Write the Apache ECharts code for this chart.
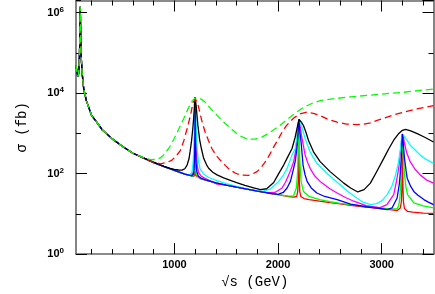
<!DOCTYPE html>
<html>
<head>
<meta charset="utf-8">
<script src="https://cdn.jsdelivr.net/npm/echarts@6/dist/echarts.min.js"></script>
<style>
html,body{margin:0;padding:0;background:#fff;}
#chart{width:435px;height:294px;}
</style>
</head>
<body>
<div id="chart"></div>
<script>
// ---- data (sqrt(s) in GeV, sigma in fb) ----
const lowEnergy = [50, 60, 66, 75, 82, 86, 89, 91.2, 93, 96, 100, 110, 125, 150, 200, 250, 300, 400, 500, 600];
const lowSigma  = [5.0e4, 3.3e4, 2.6e4, 3.0e4, 6.0e4, 1.8e5, 6.0e5, 1.4e6, 7.0e5, 2.0e5, 8.0e4, 3.0e4, 1.25e4, 6.5e3, 2.8e3, 1.9e3, 1.25e3, 730, 470, 320];

const blackE = [700, 800, 900, 960, 1000, 1040, 1073, 1100, 1122, 1140, 1151, 1165, 1177, 1185, 1192, 1196, 1200, 1204, 1210, 1218, 1226, 1243, 1260, 1282, 1310, 1330, 1370, 1411, 1475, 1540, 1600, 1680, 1765, 1830, 1890, 1958, 2006, 2054, 2100, 2135, 2165, 2185, 2196, 2203, 2212, 2225, 2245, 2270, 2293, 2342, 2406, 2502, 2634, 2700, 2769, 2830, 2891, 2950, 3020, 3070, 3116, 3160, 3200, 3231, 3280, 3343, 3420, 3500];
const blackSigma = [245, 192, 152, 135, 128, 123, 122, 132, 163, 230, 350, 650, 1300, 2300, 4300, 6600, 7850, 7100, 4700, 2700, 1600, 700, 420, 240, 165, 136, 108, 93, 78, 68, 60, 51, 44, 40, 42, 60, 100, 163, 280, 420, 800, 1400, 1900, 2210, 2150, 1900, 1570, 1050, 675, 348, 198, 112, 58, 44, 35, 40, 58, 110, 239, 420, 675, 960, 1190, 1250, 1150, 980, 790, 610];

const cyanE = [700, 800, 900, 1000, 1100, 1150, 1170, 1180, 1188, 1192, 1196, 1200, 1204, 1208, 1212, 1220, 1230, 1248, 1280, 1330, 1411, 1500, 1600, 1700, 1765, 1850, 1923, 2006, 2050, 2087, 2135, 2165, 2185, 2195, 2203, 2212, 2226, 2261, 2309, 2374, 2470, 2530, 2599, 2680, 2760, 2820, 2891, 2950, 3000, 3053, 3100, 3134, 3160, 3182, 3192, 3198, 3205, 3220, 3250, 3275, 3320, 3371, 3430, 3500];
const cyanSigma = [245, 188, 150, 120, 97, 92, 110, 180, 450, 1100, 3900, 7800, 3900, 1650, 860, 380, 215, 130, 98, 80, 67, 56, 48, 41.5, 38, 36, 41, 64, 90, 135, 288, 420, 900, 1600, 2200, 2000, 1570, 740, 348, 180, 102, 75, 53, 35, 24.8, 19.5, 17, 18, 21, 30, 50, 93, 180, 420, 750, 980, 960, 820, 640, 507, 390, 288, 225, 180];

const magentaE = [700, 800, 900, 1000, 1100, 1160, 1180, 1190, 1195, 1198, 1200, 1202, 1205, 1210, 1220, 1233, 1260, 1300, 1411, 1500, 1600, 1700, 1800, 1900, 1970, 2039, 2070, 2103, 2130, 2151, 2170, 2185, 2195, 2200, 2205, 2215, 2226, 2240, 2261, 2285, 2309, 2350, 2406, 2500, 2570, 2650, 2731, 2850, 2985, 3050, 3116, 3140, 3164, 3180, 3190, 3200, 3210, 3220, 3240, 3275, 3320, 3371, 3430, 3500];
const magentaSigma = [245, 188, 150, 120, 97, 90, 105, 250, 900, 3000, 7800, 3900, 1150, 380, 157, 106, 85, 75, 55, 52, 46, 41, 37, 33.5, 34, 44, 60, 93, 140, 200, 380, 800, 1700, 2200, 2050, 1400, 890, 560, 290, 190, 135, 90, 64, 42, 33, 25.5, 20.6, 16, 14.3, 17, 30, 60, 135, 330, 600, 950, 780, 560, 340, 198, 130, 93, 70, 58];

const blueE = [700, 800, 900, 1000, 1100, 1170, 1185, 1192, 1196, 1198, 1199, 1200, 1201, 1202, 1204, 1208, 1215, 1230, 1260, 1300, 1400, 1500, 1600, 1700, 1800, 1900, 2000, 2050, 2087, 2120, 2135, 2165, 2180, 2190, 2196, 2200, 2204, 2210, 2222, 2241, 2260, 2280, 2320, 2374, 2450, 2570, 2700, 2850, 3000, 3053, 3100, 3149, 3170, 3178, 3185, 3190, 3195, 3200, 3205, 3210, 3220, 3235, 3246, 3280, 3310, 3350, 3407, 3450, 3500];
const blueSigma = [245, 188, 150, 120, 97, 88, 100, 150, 400, 1400, 3500, 7800, 3900, 1640, 540, 200, 115, 87, 76, 70, 59, 52, 46, 41, 36.5, 33, 30.5, 34, 44, 65, 93, 198, 380, 750, 1500, 2200, 1800, 1100, 610, 163, 95, 64, 44, 33, 27, 22.6, 17.5, 15, 13.5, 12.8, 14, 24.8, 55, 93, 160, 270, 560, 960, 760, 480, 240, 120, 77, 48, 36, 29, 22.6, 19.5, 17];

const greenE = [700, 800, 900, 1000, 1100, 1180, 1190, 1195, 1198, 1199, 1199.5, 1200, 1200.5, 1201, 1202, 1205, 1210, 1250, 1300, 1400, 1500, 1600, 1700, 1800, 1900, 2000, 2100, 2150, 2176, 2185, 2190, 2195, 2198, 2200, 2202, 2205, 2210, 2222, 2245, 2300, 2400, 2500, 2600, 2700, 2800, 2900, 3000, 3100, 3150, 3165, 3175, 3185, 3190, 3195, 3198, 3200, 3202, 3205, 3210, 3220, 3235, 3250, 3310, 3400, 3500];
const greenSigma = [245, 188, 150, 120, 97, 85, 90, 120, 300, 1000, 3000, 7800, 3000, 1075, 380, 130, 95, 75, 69, 59, 52, 46, 41, 36.5, 33, 30, 27.5, 28, 44, 80, 130, 440, 1300, 2200, 1300, 470, 200, 64, 36, 27, 22.5, 20, 18.3, 17, 15.8, 14.8, 13.9, 13.2, 13.5, 16, 25, 60, 120, 400, 800, 950, 850, 580, 270, 95, 45, 30, 18.7, 15.7, 14.1];

const redE = [700, 800, 900, 1000, 1100, 1150, 1190, 1196, 1198, 1199, 1199.6, 1200, 1200.4, 1201, 1202, 1204, 1210, 1250, 1300, 1400, 1500, 1600, 1700, 1800, 1900, 2000, 2100, 2150, 2180, 2190, 2195, 2198, 2199, 2200, 2201, 2202, 2205, 2210, 2220, 2250, 2300, 2400, 2500, 2600, 2700, 2800, 2900, 3000, 3100, 3150, 3180, 3190, 3195, 3198, 3199, 3200, 3201, 3202, 3205, 3210, 3220, 3250, 3300, 3400, 3500];
const redSigma = [245, 188, 150, 120, 97, 90, 86, 95, 124, 253, 1000, 7800, 1000, 253, 124, 91, 84, 75, 69, 59, 52, 46, 41, 36.5, 33, 30, 27, 26, 27, 36, 67, 265, 750, 2200, 750, 265, 67, 35, 27, 24, 22.5, 20.6, 19, 17.6, 16.3, 15.2, 14.2, 13.3, 12.5, 12.1, 14, 20, 45, 200, 480, 950, 480, 200, 45, 20, 13.5, 11.5, 11, 10.4, 10.3];

const greenDashE = [700, 767, 820, 864, 900, 950, 993, 1040, 1089, 1130, 1170, 1200, 1218, 1250, 1298, 1350, 1411, 1470, 1540, 1620, 1700, 1780, 1850, 1920, 2000, 2087, 2160, 2247, 2330, 2409, 2490, 2570, 2700, 2891, 3050, 3213, 3350, 3500];
const greenDashSigma = [250, 222, 225, 245, 300, 440, 700, 1250, 2300, 4000, 6300, 7600, 7850, 7300, 5900, 4100, 2800, 1950, 1350, 900, 720, 720, 820, 1050, 1450, 2200, 3100, 4450, 5600, 6500, 7000, 7400, 8100, 8900, 9700, 10500, 11500, 12600];

const redDashE = [700, 767, 864, 930, 977, 1020, 1058, 1090, 1122, 1154, 1180, 1202, 1225, 1248, 1270, 1296, 1330, 1361, 1400, 1441, 1490, 1537, 1590, 1634, 1714, 1760, 1797, 1840, 1878, 1920, 1958, 2000, 2039, 2080, 2116, 2160, 2213, 2278, 2340, 2406, 2480, 2570, 2660, 2763, 2830, 2891, 2970, 3053, 3130, 3213, 3350, 3500];
const redDashSigma = [245, 200, 175, 190, 217, 280, 380, 650, 1300, 2760, 5900, 7130, 5500, 3050, 1800, 1080, 650, 420, 290, 217, 160, 123, 102, 93, 90, 100, 112, 145, 198, 300, 462, 700, 1080, 1550, 1950, 2500, 3050, 3360, 3150, 2760, 2250, 1900, 1700, 1640, 1700, 1830, 2150, 2530, 2950, 3360, 4100, 4900];

const xMajorTicks = [1000, 2000, 3000];
const xMinorTicks = [200, 400, 600, 800, 1200, 1400, 1600, 1800, 2200, 2400, 2600, 2800, 3200, 3400];
const yLabelExponents = [0, 2, 4, 6];

// ---- build ----
function pairs(e, s) {
  const xs = lowEnergy.concat(e), ys = lowSigma.concat(s);
  return xs.map((x, i) => [x, ys[i]]);
}
const FRAME = '#666';
const monoFont = '"Liberation Mono", "DejaVu Sans Mono", monospace';
const sansFont = '"Liberation Sans", Arial, sans-serif';

function xAxisDef(pos, ticks, len, line, labels, extra) {
  return Object.assign({
    type: 'value', position: pos, min: 50, max: 3500, gridIndex: 0,
    axisLine: { show: line, onZero: false, lineStyle: { color: FRAME, width: 1.6 } },
    axisTick: { show: true, inside: true, length: len, customValues: ticks, lineStyle: { color: '#000', width: 1 } },
    axisLabel: { show: labels, customValues: ticks, margin: 5, fontSize: 11, fontWeight: 'bold', color: '#000', fontFamily: sansFont,
                 formatter: function (v) { return String(v); } },
    splitLine: { show: false }
  }, extra || {});
}
function yAxisDef(pos, interval, len, line, labels, extra) {
  return Object.assign({
    type: 'log', logBase: 10, position: pos, min: 1, max: 2e6, interval: interval,
    axisLine: { show: line, onZero: false, lineStyle: { color: FRAME, width: 1.6 } },
    axisTick: { show: true, inside: true, length: len, lineStyle: { color: '#000', width: 1 } },
    axisLabel: {
      show: labels, margin: 12, showMaxLabel: false,
      formatter: function (v) {
        const e = Math.log10(v), r = Math.round(e);
        if (Math.abs(e - r) > 1e-6 || yLabelExponents.indexOf(r) < 0) return '';
        return '{b|10}{s|' + r + '}';
      },
      rich: {
        b: { fontSize: 11, fontWeight: 'bold', fontFamily: sansFont, color: '#000' },
        s: { fontSize: 8, fontWeight: 'bold', fontFamily: sansFont, color: '#000', verticalAlign: 'top', padding: [0, 0, 6, 0] }
      }
    },
    splitLine: { show: false }
  }, extra || {});
}

function line(name, e, s, color, dashed) {
  return {
    name: name, type: 'line', xAxisIndex: 0, yAxisIndex: 0,
    data: pairs(e, s), showSymbol: false, symbol: 'none', smooth: false,
    lineStyle: { color: color, width: 1.3, type: dashed ? [7, 4] : 'solid' },
    emphasis: { disabled: true }, silent: true
  };
}

const chart = echarts.init(document.getElementById('chart'), null, { renderer: 'canvas' });
chart.setOption({
  animation: false,
  backgroundColor: '#fff',
  grid: { left: 76, right: 1.5, top: 0.5, bottom: 37.3, containLabel: false },
  xAxis: [
    xAxisDef('bottom', xMajorTicks, 11, true, true, {
      name: '√s (GeV)', nameLocation: 'middle', nameGap: 19,
      nameTextStyle: { fontFamily: monoFont, fontSize: 14, color: '#000' }
    }),
    xAxisDef('bottom', xMinorTicks, 5, false, false),
    xAxisDef('top', xMajorTicks, 11, true, false),
    xAxisDef('top', xMinorTicks, 5, false, false)
  ],
  yAxis: [
    yAxisDef('left', 2, 11, true, true, {
      name: 'σ (fb)', nameLocation: 'middle', nameGap: 47,
      nameTextStyle: { fontFamily: monoFont, fontSize: 14, color: '#000' }
    }),
    yAxisDef('left', 1, 5, false, false),
    yAxisDef('right', 2, 11, true, false),
    yAxisDef('right', 1, 5, false, false)
  ],
  series: [
    line('red', redE, redSigma, '#ff0000', false),
    line('green', greenE, greenSigma, '#00ff00', false),
    line('magenta', magentaE, magentaSigma, '#ff00ff', false),
    line('cyan', cyanE, cyanSigma, '#00ffff', false),
    line('blue', blueE, blueSigma, '#0000ff', false),
    line('black', blackE, blackSigma, '#000000', false),
    line('red dashed', redDashE, redDashSigma, '#ff0000', true),
    line('green dashed', greenDashE, greenDashSigma, '#00ff00', true)
  ]
});
</script>
</body>
</html>
